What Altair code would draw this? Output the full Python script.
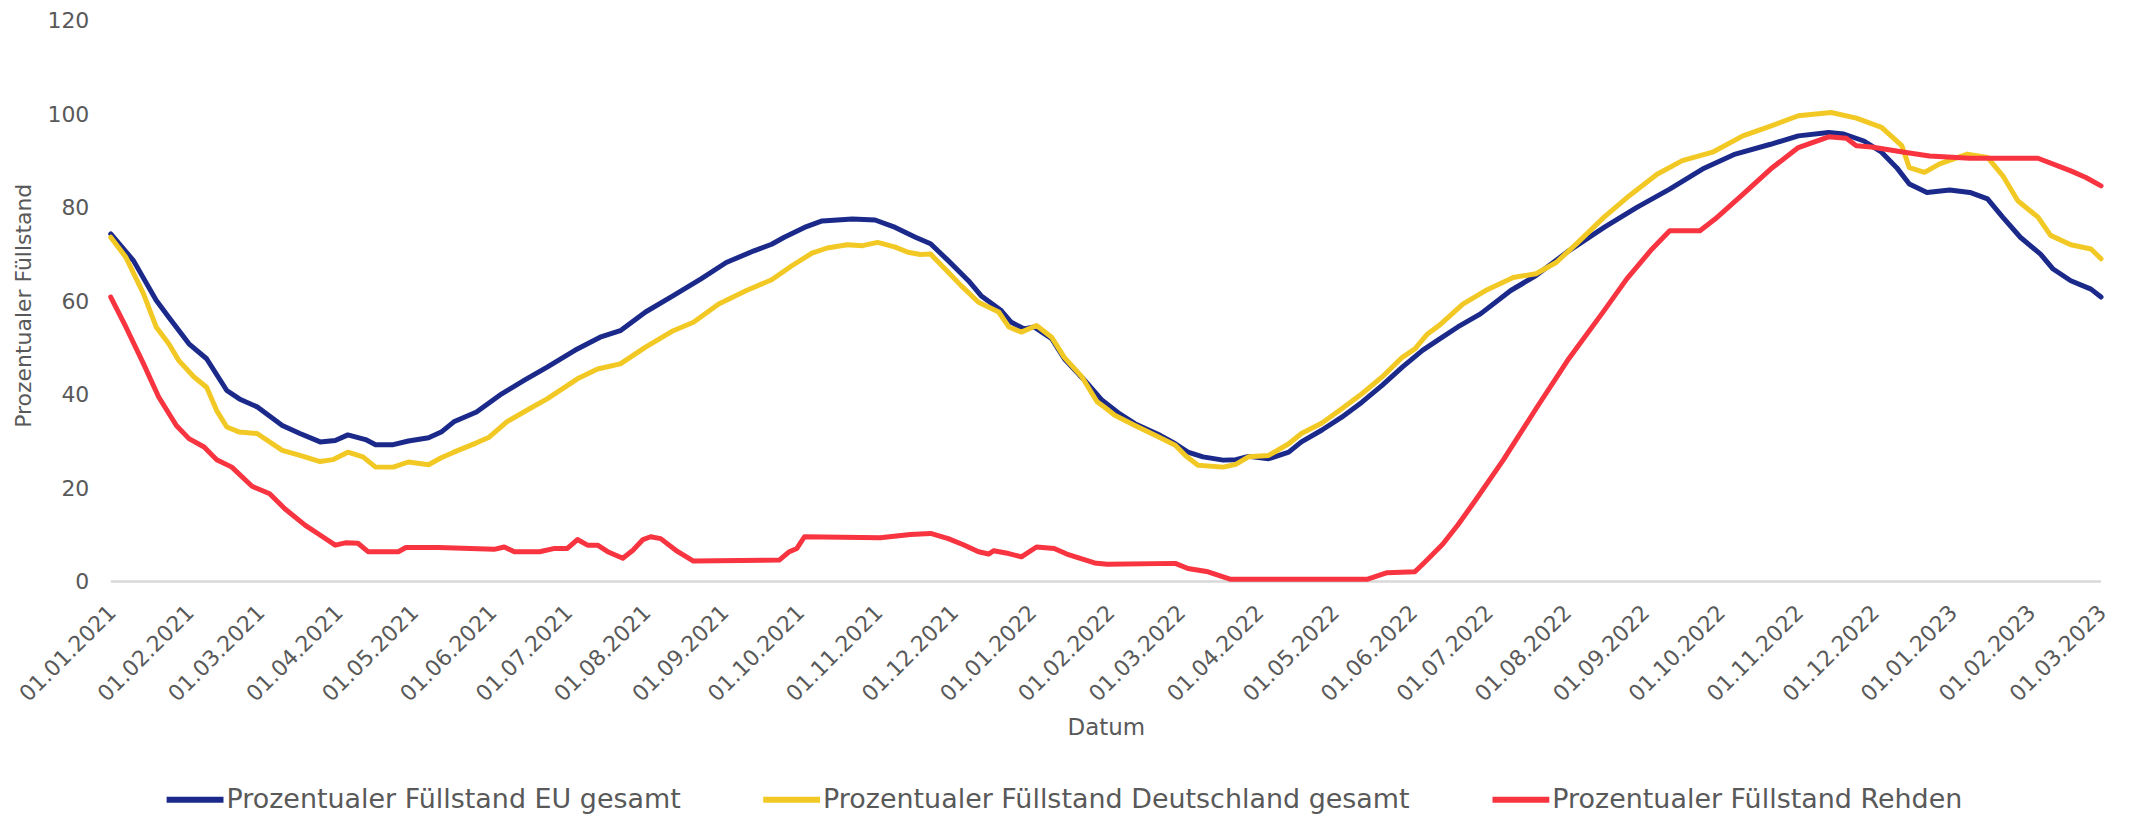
import altair as alt
import pandas as pd

# ---- data (day offset from 01.01.2021, percent) ----
eu_days = [0, 9, 18, 23, 31, 38, 46, 51, 58, 68, 75, 83, 89, 94, 101, 105, 112, 118, 126, 131,
           136, 145, 155, 164, 173, 184, 194, 202, 212, 223, 234, 244, 255, 262, 267, 275, 282,
           294, 303, 311, 319, 325, 332, 340, 345, 353, 357, 362, 366, 373, 378, 386, 393, 400,
           406, 416, 422, 427, 433, 441, 446, 451, 459, 467, 472, 480, 488, 496, 504, 512, 520,
           527, 534, 543, 555, 565, 578, 592, 605, 618, 631, 644, 658, 669, 681, 687, 695, 702,
           708, 713, 720, 729, 737, 744, 750, 757, 765, 770, 777, 785, 789]
eu_vals = [74.4, 68.7, 60.2, 56.6, 50.9, 47.7, 40.9, 39.1, 37.4, 33.4, 31.7, 29.9, 30.2, 31.4,
           30.4, 29.3, 29.3, 30.1, 30.8, 32.0, 34.2, 36.3, 40.2, 43.1, 45.9, 49.5, 52.3, 53.7,
           57.7, 61.2, 64.8, 68.3, 70.8, 72.2, 73.7, 75.8, 77.2, 77.6, 77.4, 75.8, 73.7, 72.3,
           68.7, 64.4, 61.2, 58.0, 55.5, 54.1, 54.5, 52.0, 47.7, 43.1, 38.8, 35.9, 33.8, 31.3,
           29.5, 27.7, 26.7, 26.0, 26.1, 26.8, 26.3, 27.7, 29.9, 32.4, 35.2, 38.4, 42.0, 45.9,
           49.5, 52.0, 54.5, 57.3, 62.3, 65.5, 70.8, 75.8, 80.1, 84.0, 88.3, 91.5, 93.6, 95.4,
           96.1, 95.8, 94.3, 91.9, 88.6, 85.1, 83.3, 83.8, 83.3, 81.9, 78.0, 73.7, 70.1, 66.9,
           64.4, 62.6, 60.9]

de_days = [0, 6, 13, 18, 23, 27, 33, 38, 42, 46, 51, 58, 68, 75, 83, 88, 94, 100, 105, 112,
           118, 126, 131, 136, 145, 150, 157, 166, 173, 185, 193, 202, 212, 223, 231, 241, 252,
           262, 270, 278, 284, 292, 298, 304, 311, 316, 321, 325, 332, 337, 344, 352, 356, 361,
           367, 373, 378, 385, 391, 394, 398, 406, 414, 422, 426, 431, 441, 446, 451, 459, 467,
           472, 480, 488, 496, 504, 512, 517, 522, 527, 536, 545, 556, 565, 573, 581, 592, 602,
           613, 623, 635, 647, 658, 669, 682, 692, 702, 710, 713, 719, 725, 736, 744, 750, 756,
           764, 769, 777, 785, 789]
de_vals = [73.7, 69.4, 61.6, 54.5, 50.9, 47.3, 43.8, 41.6, 36.6, 33.1, 32.0, 31.7, 28.1, 27.0,
           25.7, 26.1, 27.7, 26.7, 24.5, 24.5, 25.6, 25.0, 26.5, 27.7, 29.7, 30.9, 34.2, 37.0,
           39.1, 43.4, 45.5, 46.6, 50.2, 53.7, 55.5, 59.4, 62.3, 64.6, 67.6, 70.3, 71.4, 72.1,
           71.9, 72.6, 71.6, 70.5, 70.0, 70.1, 66.2, 63.4, 59.8, 57.7, 54.5, 53.4, 54.8, 52.3,
           48.0, 43.8, 38.5, 37.3, 35.6, 33.4, 31.3, 29.2, 27.0, 24.9, 24.5, 25.1, 26.7, 27.0,
           29.5, 31.7, 33.9, 37.0, 40.2, 43.8, 48.0, 49.8, 53.0, 55.0, 59.4, 62.3, 65.1, 65.9,
           68.3, 72.3, 78.0, 82.6, 87.2, 90.1, 91.9, 95.4, 97.5, 99.7, 100.4, 99.2, 97.2, 93.3,
           88.6, 87.6, 89.4, 91.5, 90.8, 86.9, 81.5, 78.0, 74.1, 72.1, 71.2, 69.1]

rh_days = [0, 6, 13, 19, 26, 31, 37, 42, 48, 56, 63, 69, 77, 84, 89, 93, 98, 102, 114, 117,
           130, 152, 156, 160, 170, 176, 181, 185, 189, 193, 197, 203, 207, 211, 214, 218, 224,
           231, 265, 269, 272, 275, 305, 317, 325, 332, 338, 344, 348, 350, 356, 361, 367, 374,
           379, 390, 395, 422, 427, 435, 444, 498, 506, 517, 521, 528, 534, 541, 552, 565, 578,
           592, 601, 611, 618, 630, 636, 647, 658, 669, 681, 688, 692, 698, 711, 721, 737, 764,
           777, 783, 789]
rh_vals = [60.9, 54.5, 46.6, 39.5, 33.4, 30.6, 28.8, 26.1, 24.5, 20.4, 18.8, 15.6, 12.1, 9.6,
           7.8, 8.3, 8.2, 6.4, 6.4, 7.3, 7.3, 6.9, 7.4, 6.4, 6.4, 7.1, 7.1, 9.0, 7.8, 7.8, 6.4,
           5.0, 6.7, 9.0, 9.6, 9.2, 6.7, 4.4, 4.6, 6.4, 7.1, 9.6, 9.4, 10.1, 10.3, 9.2, 7.9, 6.4,
           5.9, 6.6, 6.0, 5.3, 7.4, 7.1, 5.9, 4.0, 3.7, 3.9, 2.8, 2.1, 0.5, 0.5, 1.9, 2.1, 4.2,
           8.0, 12.1, 17.4, 26.0, 37.0, 47.7, 58.0, 64.8, 71.2, 75.1, 75.1, 77.6, 82.9, 88.3,
           92.9, 95.2, 94.9, 93.3, 93.0, 91.9, 91.1, 90.6, 90.6, 87.9, 86.5, 84.7]

series_names = ["Prozentualer Füllstand EU gesamt",
                "Prozentualer Füllstand Deutschland gesamt",
                "Prozentualer Füllstand Rehden"]
series_colors = ["#1b2a8a", "#f2c924", "#f7343f"]
y_ticks = [0, 20, 40, 60, 80, 100, 120]

# ---- build table ----
base = pd.Timestamp("2021-01-01")
rows = []
for name, days, vals in zip(series_names, [eu_days, de_days, rh_days], [eu_vals, de_vals, rh_vals]):
    for d, v in zip(days, vals):
        rows.append({"Datum": (base + pd.Timedelta(days=d)).strftime("%Y-%m-%d"),
                     "Wert": v, "Serie": name})
df = pd.DataFrame(rows)

month_starts = pd.date_range("2021-01-01", "2023-03-01", freq="MS")
tick_ms = [int(ts.value // 10**6) for ts in month_starts]
dom = [tick_ms[0], tick_ms[-1]]

GREY = "#595959"
FONT = "DejaVu Sans"

x_enc = alt.X("Datum:T",
              scale=alt.Scale(type="utc", domain=dom, nice=False),
              axis=alt.Axis(values=tick_ms,
                            labelExpr="utcFormat(datum.value, '%d.%m.%Y')",
                            labelAngle=315, labelAlign="right", labelBaseline="top",
                            labelPadding=20, labelOffset=-6, ticks=False, grid=False,
                            domain=False,
                            labelFontSize=22, labelColor=GREY, labelFont=FONT,
                            labelOverlap=False, labelBound=False, labelFlush=False,
                            title="Datum", titleFontSize=23, titleColor=GREY,
                            titleFont=FONT, titleFontWeight="normal",
                            titleY=146, titleBaseline="middle"))
y_enc = alt.Y("Wert:Q",
              scale=alt.Scale(domain=[0, 120], nice=False),
              axis=alt.Axis(values=y_ticks, grid=False, domain=False, ticks=False,
                            labelPadding=22, labelFontSize=22, labelColor=GREY,
                            labelFont=FONT,
                            title="Prozentualer Füllstand", titleFontSize=22,
                            titleColor=GREY, titleFont=FONT, titleFontWeight="normal",
                            titleX=-87, titleY=285, titleAngle=270,
                            titleAlign="center", titleBaseline="middle"))
color_enc = alt.Color("Serie:N",
                      scale=alt.Scale(domain=series_names, range=series_colors),
                      sort=series_names,
                      legend=alt.Legend(title=None, orient="none", legendX=53, legendY=749,
                                        direction="horizontal", columns=3,
                                        symbolType="stroke", symbolSize=3249,
                                        symbolStrokeWidth=6, labelFontSize=27,
                                        labelFont=FONT, labelColor=GREY, labelLimit=2000,
                                        columnPadding=70, labelOffset=0))

# baseline at 0 (x axis line)
baseline = (alt.Chart(df).transform_aggregate(n="count()")
            .mark_rule(color="#d9d9d9", strokeWidth=2.5)
            .encode(y=alt.datum(0)))

layers = [baseline]
for name in series_names:
    layers.append(
        alt.Chart(df).transform_filter(alt.datum.Serie == name)
        .mark_line(strokeWidth=5, strokeCap="round", strokeJoin="round")
        .encode(x=x_enc, y=y_enc, color=color_enc)
    )

chart = (alt.layer(*layers)
         .properties(width=1995, height=562,
                     padding={"left": 103, "top": 12, "right": 20, "bottom": 236},
                     autosize=alt.AutoSizeParams(type="none"))
         .configure(font=FONT)
         .configure_view(strokeWidth=0, stroke="transparent"))

chart.save("out.html", embed_options={"renderer": "svg", "actions": False})
